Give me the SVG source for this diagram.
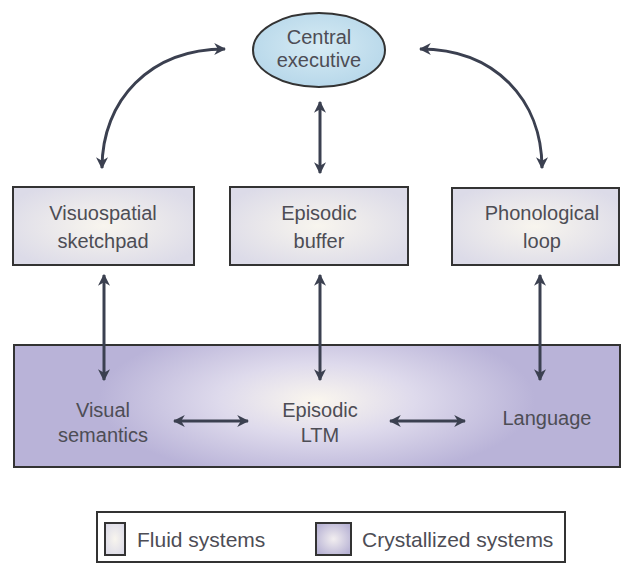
<svg xmlns="http://www.w3.org/2000/svg" width="621" height="568" viewBox="0 0 621 568">
<defs>
<radialGradient id="fluid" cx="50%" cy="50%" r="60%">
<stop offset="0" stop-color="#f8f5ee"/>
<stop offset="1" stop-color="#dcdbe8"/>
</radialGradient>
<radialGradient id="cryst" cx="50%" cy="45%" r="60%" gradientTransform="translate(0.5 0.45) scale(0.6 1.1) translate(-0.5 -0.45)">
<stop offset="0" stop-color="#faf6ee"/>
<stop offset="0.45" stop-color="#dedaec"/>
<stop offset="1" stop-color="#b9b3d8"/>
</radialGradient>
<radialGradient id="crystSw" cx="50%" cy="50%" r="60%">
<stop offset="0" stop-color="#f2eef0"/>
<stop offset="1" stop-color="#b7b2d4"/>
</radialGradient>
<radialGradient id="ce" cx="50%" cy="45%" r="60%">
<stop offset="0" stop-color="#d6ebf4"/>
<stop offset="1" stop-color="#b5d6e9"/>
</radialGradient>
<marker id="ah" viewBox="0 0 10 10" refX="9" refY="5" markerWidth="4" markerHeight="4" orient="auto-start-reverse" markerUnits="strokeWidth">
<path d="M0,0 L10,5 L0,10 L3,5 z" fill="#3b4050"/>
</marker>
<style>
.t{font-family:"Liberation Sans",Arial,sans-serif;font-size:20px;fill:#4d4d55;text-anchor:middle}
.lg{font-family:"Liberation Sans",Arial,sans-serif;font-size:21px;fill:#4d4d55}
.box{stroke:#333;stroke-width:2}
.c{fill:none;stroke:#3b4050;stroke-width:3;marker-start:url(#ah);marker-end:url(#ah)}
</style>
</defs>
<g id="crystallized">
<rect class="box" x="14" y="345" width="606" height="122" fill="url(#cryst)"/>
</g>
<g id="central-executive">
<ellipse cx="319" cy="50" rx="66" ry="37" fill="url(#ce)" stroke="#333" stroke-width="2"/>
<text class="t" x="319" y="44">Central</text>
<text class="t" x="319" y="67">executive</text>
</g>
<g id="visuospatial">
<rect class="box" x="13" y="187" width="181" height="78" fill="url(#fluid)"/>
<text class="t" x="103" y="220">Visuospatial</text>
<text class="t" x="103" y="248">sketchpad</text>
</g>
<g id="episodic-buffer">
<rect class="box" x="230" y="187" width="178" height="78" fill="url(#fluid)"/>
<text class="t" x="319" y="220">Episodic</text>
<text class="t" x="319" y="248">buffer</text>
</g>
<g id="phonological">
<rect class="box" x="452" y="188" width="167" height="77" fill="url(#fluid)"/>
<text class="t" x="542" y="220">Phonological</text>
<text class="t" x="542" y="248">loop</text>
</g>
<g id="visual-semantics">
<text class="t" x="103" y="417">Visual</text>
<text class="t" x="103" y="442">semantics</text>
</g>
<g id="episodic-ltm">
<text class="t" x="320" y="417">Episodic</text>
<text class="t" x="320" y="442">LTM</text>
</g>
<g id="language">
<text class="t" x="547" y="425">Language</text>
</g>
<g id="connectors">
<path class="c" d="M225,49 C150,49 102,100 102,168"/>
<path class="c" d="M420,49 C495,49 542,100 542,168"/>
<path class="c" d="M320,102 L320,173"/>
<path class="c" d="M104,275 L104,380"/>
<path class="c" d="M320,275 L320,380"/>
<path class="c" d="M540,275 L540,380"/>
<path class="c" d="M174,421 L248,421"/>
<path class="c" d="M390,421 L465,421"/>
</g>
<g id="legend">
<rect x="97" y="512" width="468" height="50" fill="#fff" stroke="#333" stroke-width="2"/>
<rect class="box" x="105" y="523" width="20" height="32" fill="url(#fluid)"/>
<text class="lg" x="137" y="547">Fluid systems</text>
<rect class="box" x="316" y="523" width="35" height="32" fill="url(#crystSw)"/>
<text class="lg" x="362" y="547">Crystallized systems</text>
</g>
</svg>
